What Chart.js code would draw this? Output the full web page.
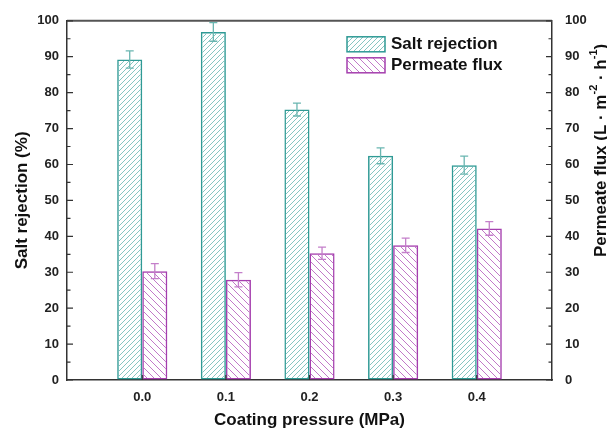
<!DOCTYPE html>
<html><head><meta charset="utf-8">
<script src="https://cdn.jsdelivr.net/npm/chart.js@4.4.0/dist/chart.umd.min.js"></script>
<style>body{margin:0;background:#fff}#wrap{width:607px;height:431px;position:relative}</style>
</head>
<body>
<div id="wrap"><canvas id="myChart"></canvas></div>
<script>
// values
var pressures = [0.0, 0.1, 0.2, 0.3, 0.4];
var saltRejection = [89.2, 96.9, 75.3, 62.4, 59.8];
var saltErr = [2.4, 2.6, 1.8, 2.2, 2.5];
var permeateFlux = [30.3, 27.9, 35.3, 37.5, 42.2];
var fluxErr = [2.1, 2.0, 1.7, 2.0, 1.9];
var seriesNames = ['Salt rejection', 'Permeate flux'];

var FONT = 'Liberation Sans, Arial, sans-serif';
var teal = '#2f9a95', tealHatch = '#86c6c2', tealErr = '#6ab6b1';
var purple = '#a53fae', purpleHatch = '#c279c8', purpleErr = '#c47fca';
var axisCol = '#333';

function hatch(color, s, dir) {
  var c = document.createElement('canvas'); c.width = s; c.height = s;
  var g = c.getContext('2d'); g.strokeStyle = color; g.lineWidth = 1;
  g.beginPath();
  if (dir > 0) {
    g.moveTo(0, s); g.lineTo(s, 0); g.moveTo(-1, 1); g.lineTo(1, -1); g.moveTo(s - 1, s + 1); g.lineTo(s + 1, s - 1);
  } else {
    g.moveTo(0, 0); g.lineTo(s, s); g.moveTo(s - 1, -1); g.lineTo(s + 1, 1); g.moveTo(-1, s - 1); g.lineTo(1, s + 1);
  }
  g.stroke();
  return g.createPattern(c, 'repeat');
}

function pts(vals) { return pressures.map(function (p, i) { return {x: p, y: vals[i]}; }); }

var saltFill = hatch(tealHatch, 5, 1);
var fluxFill = hatch(purpleHatch, 7, -1);

// error bars, inward ticks, frame, legend, right title
var extras = {
  id: 'extras',
  afterDatasetsDraw: function (chart) {
    var ctx = chart.ctx, ca = chart.chartArea;
    ctx.save();
    chart.data.datasets.forEach(function (ds, i) {
      var meta = chart.getDatasetMeta(i), ys = chart.scales[ds.yAxisID];
      ctx.strokeStyle = ds.errColor; ctx.lineWidth = 1.3;
      meta.data.forEach(function (bar, j) {
        var v = ds.data[j].y, e = ds.errors[j];
        var t = ys.getPixelForValue(v + e), b = ys.getPixelForValue(v - e), x = bar.x;
        ctx.beginPath();
        ctx.moveTo(x, t); ctx.lineTo(x, b);
        ctx.moveTo(x - 4, t); ctx.lineTo(x + 4, t);
        ctx.moveTo(x - 4, b); ctx.lineTo(x + 4, b);
        ctx.stroke();
      });
    });
    // frame top
    ctx.strokeStyle = '#555'; ctx.lineWidth = 2;
    ctx.beginPath(); ctx.moveTo(ca.left, ca.top); ctx.lineTo(ca.right, ca.top); ctx.stroke();
    // inward ticks
    ctx.strokeStyle = axisCol; ctx.lineWidth = 1.2;
    ['y', 'y1'].forEach(function (id) {
      var s = chart.scales[id], x0 = id === 'y' ? ca.left : ca.right, d = id === 'y' ? 1 : -1;
      var vals = s.ticks.map(function (t) { return t.value; });
      ctx.beginPath();
      vals.forEach(function (v, k) {
        var p = s.getPixelForValue(v);
        ctx.moveTo(x0, p); ctx.lineTo(x0 + d * 6, p);
        if (k < vals.length - 1) {
          var m = s.getPixelForValue((v + vals[k + 1]) / 2);
          ctx.moveTo(x0, m); ctx.lineTo(x0 + d * 3.5, m);
        }
      });
      ctx.stroke();
    });
    var xs = chart.scales.x;
    ctx.beginPath();
    xs.ticks.forEach(function (t) {
      var p = xs.getPixelForValue(t.value);
      ctx.moveTo(p, ca.bottom); ctx.lineTo(p, ca.bottom - 5);
    });
    ctx.stroke();
    // legend
    var lx = ca.left + 280, ly = ca.top + 16;
    ctx.font = 'bold 17px ' + FONT; ctx.textBaseline = 'middle'; ctx.textAlign = 'left';
    chart.data.datasets.forEach(function (ds, i) {
      var y = ly + i * 21;
      ctx.fillStyle = ds.backgroundColor; ctx.fillRect(lx, y, 38, 15);
      ctx.strokeStyle = ds.borderColor; ctx.lineWidth = 1.5; ctx.strokeRect(lx, y, 38, 15);
      ctx.fillStyle = '#111'; ctx.fillText(ds.label, lx + 44, y + 8);
    });
    // right axis title with superscripts
    ctx.translate(ca.right + 49, (ca.top + ca.bottom) / 2 - 50);
    ctx.rotate(-Math.PI / 2);
    var parts = [['Permeate flux (L \u00b7 m', 17, 0], ['-2', 11, -7], [' \u00b7 h', 17, 0], ['-1', 11, -7], [')', 17, 0]];
    var w = 0;
    parts.forEach(function (p) { ctx.font = 'bold ' + p[1] + 'px ' + FONT; w += ctx.measureText(p[0]).width; });
    var cx = -w / 2;
    ctx.fillStyle = '#111';
    parts.forEach(function (p) {
      ctx.font = 'bold ' + p[1] + 'px ' + FONT;
      ctx.fillText(p[0], cx, p[2]);
      cx += ctx.measureText(p[0]).width;
    });
    ctx.restore();
  }
};

new Chart(document.getElementById('myChart'), {
  type: 'bar',
  data: {
    datasets: [{
      label: seriesNames[0], data: pts(saltRejection), errors: saltErr, errColor: tealErr,
      yAxisID: 'y', backgroundColor: saltFill, borderColor: teal, borderWidth: 1.5, borderSkipped: false
    }, {
      label: seriesNames[1], data: pts(permeateFlux), errors: fluxErr, errColor: purpleErr,
      yAxisID: 'y1', backgroundColor: fluxFill, borderColor: purple, borderWidth: 1.5, borderSkipped: false
    }]
  },
  options: {
    responsive: true, maintainAspectRatio: false, animation: false,
    categoryPercentage: 0.6, barPercentage: 1,
    layout: {padding: {top: 20, left: 0, right: 0, bottom: 0}},
    plugins: {legend: {display: false}, tooltip: {enabled: false}},
    scales: {
      x: {
        type: 'linear', min: -0.09, max: 0.49, offset: false,
        afterBuildTicks: function (s) { s.ticks = pressures.map(function (v) { return {value: v}; }); },
        afterFit: function (s) { s.height = 51; },
        grid: {drawOnChartArea: false, drawTicks: false, offset: false},
        border: {display: true, color: axisCol, width: 1.5},
        ticks: {padding: 10, color: '#222', font: {family: FONT, size: 13, weight: 'bold'},
          callback: function (v) { return Number(v).toFixed(1); }},
        title: {display: true, text: 'Coating pressure (MPa)', color: '#111', padding: {top: 0, bottom: 0},
          font: {family: FONT, size: 17, weight: 'bold'}}
      },
      y: {
        position: 'left', min: 0, max: 100,
        afterFit: function (s) { s.width = 67; },
        grid: {drawOnChartArea: false, drawTicks: false},
        border: {display: true, color: axisCol, width: 1.5},
        ticks: {stepSize: 10, padding: 8, color: '#222', font: {family: FONT, size: 13, weight: 'bold'}},
        title: {display: true, text: 'Salt rejection (%)', color: '#111', padding: {top: 12, bottom: 0},
          font: {family: FONT, size: 17, weight: 'bold'}}
      },
      y1: {
        position: 'right', min: 0, max: 100,
        afterFit: function (s) { s.width = 55; },
        grid: {drawOnChartArea: false, drawTicks: false},
        border: {display: true, color: axisCol, width: 1.5},
        ticks: {stepSize: 10, padding: 13, color: '#222', font: {family: FONT, size: 13, weight: 'bold'}}
      }
    }
  },
  plugins: [extras]
});
</script>
</body></html>
